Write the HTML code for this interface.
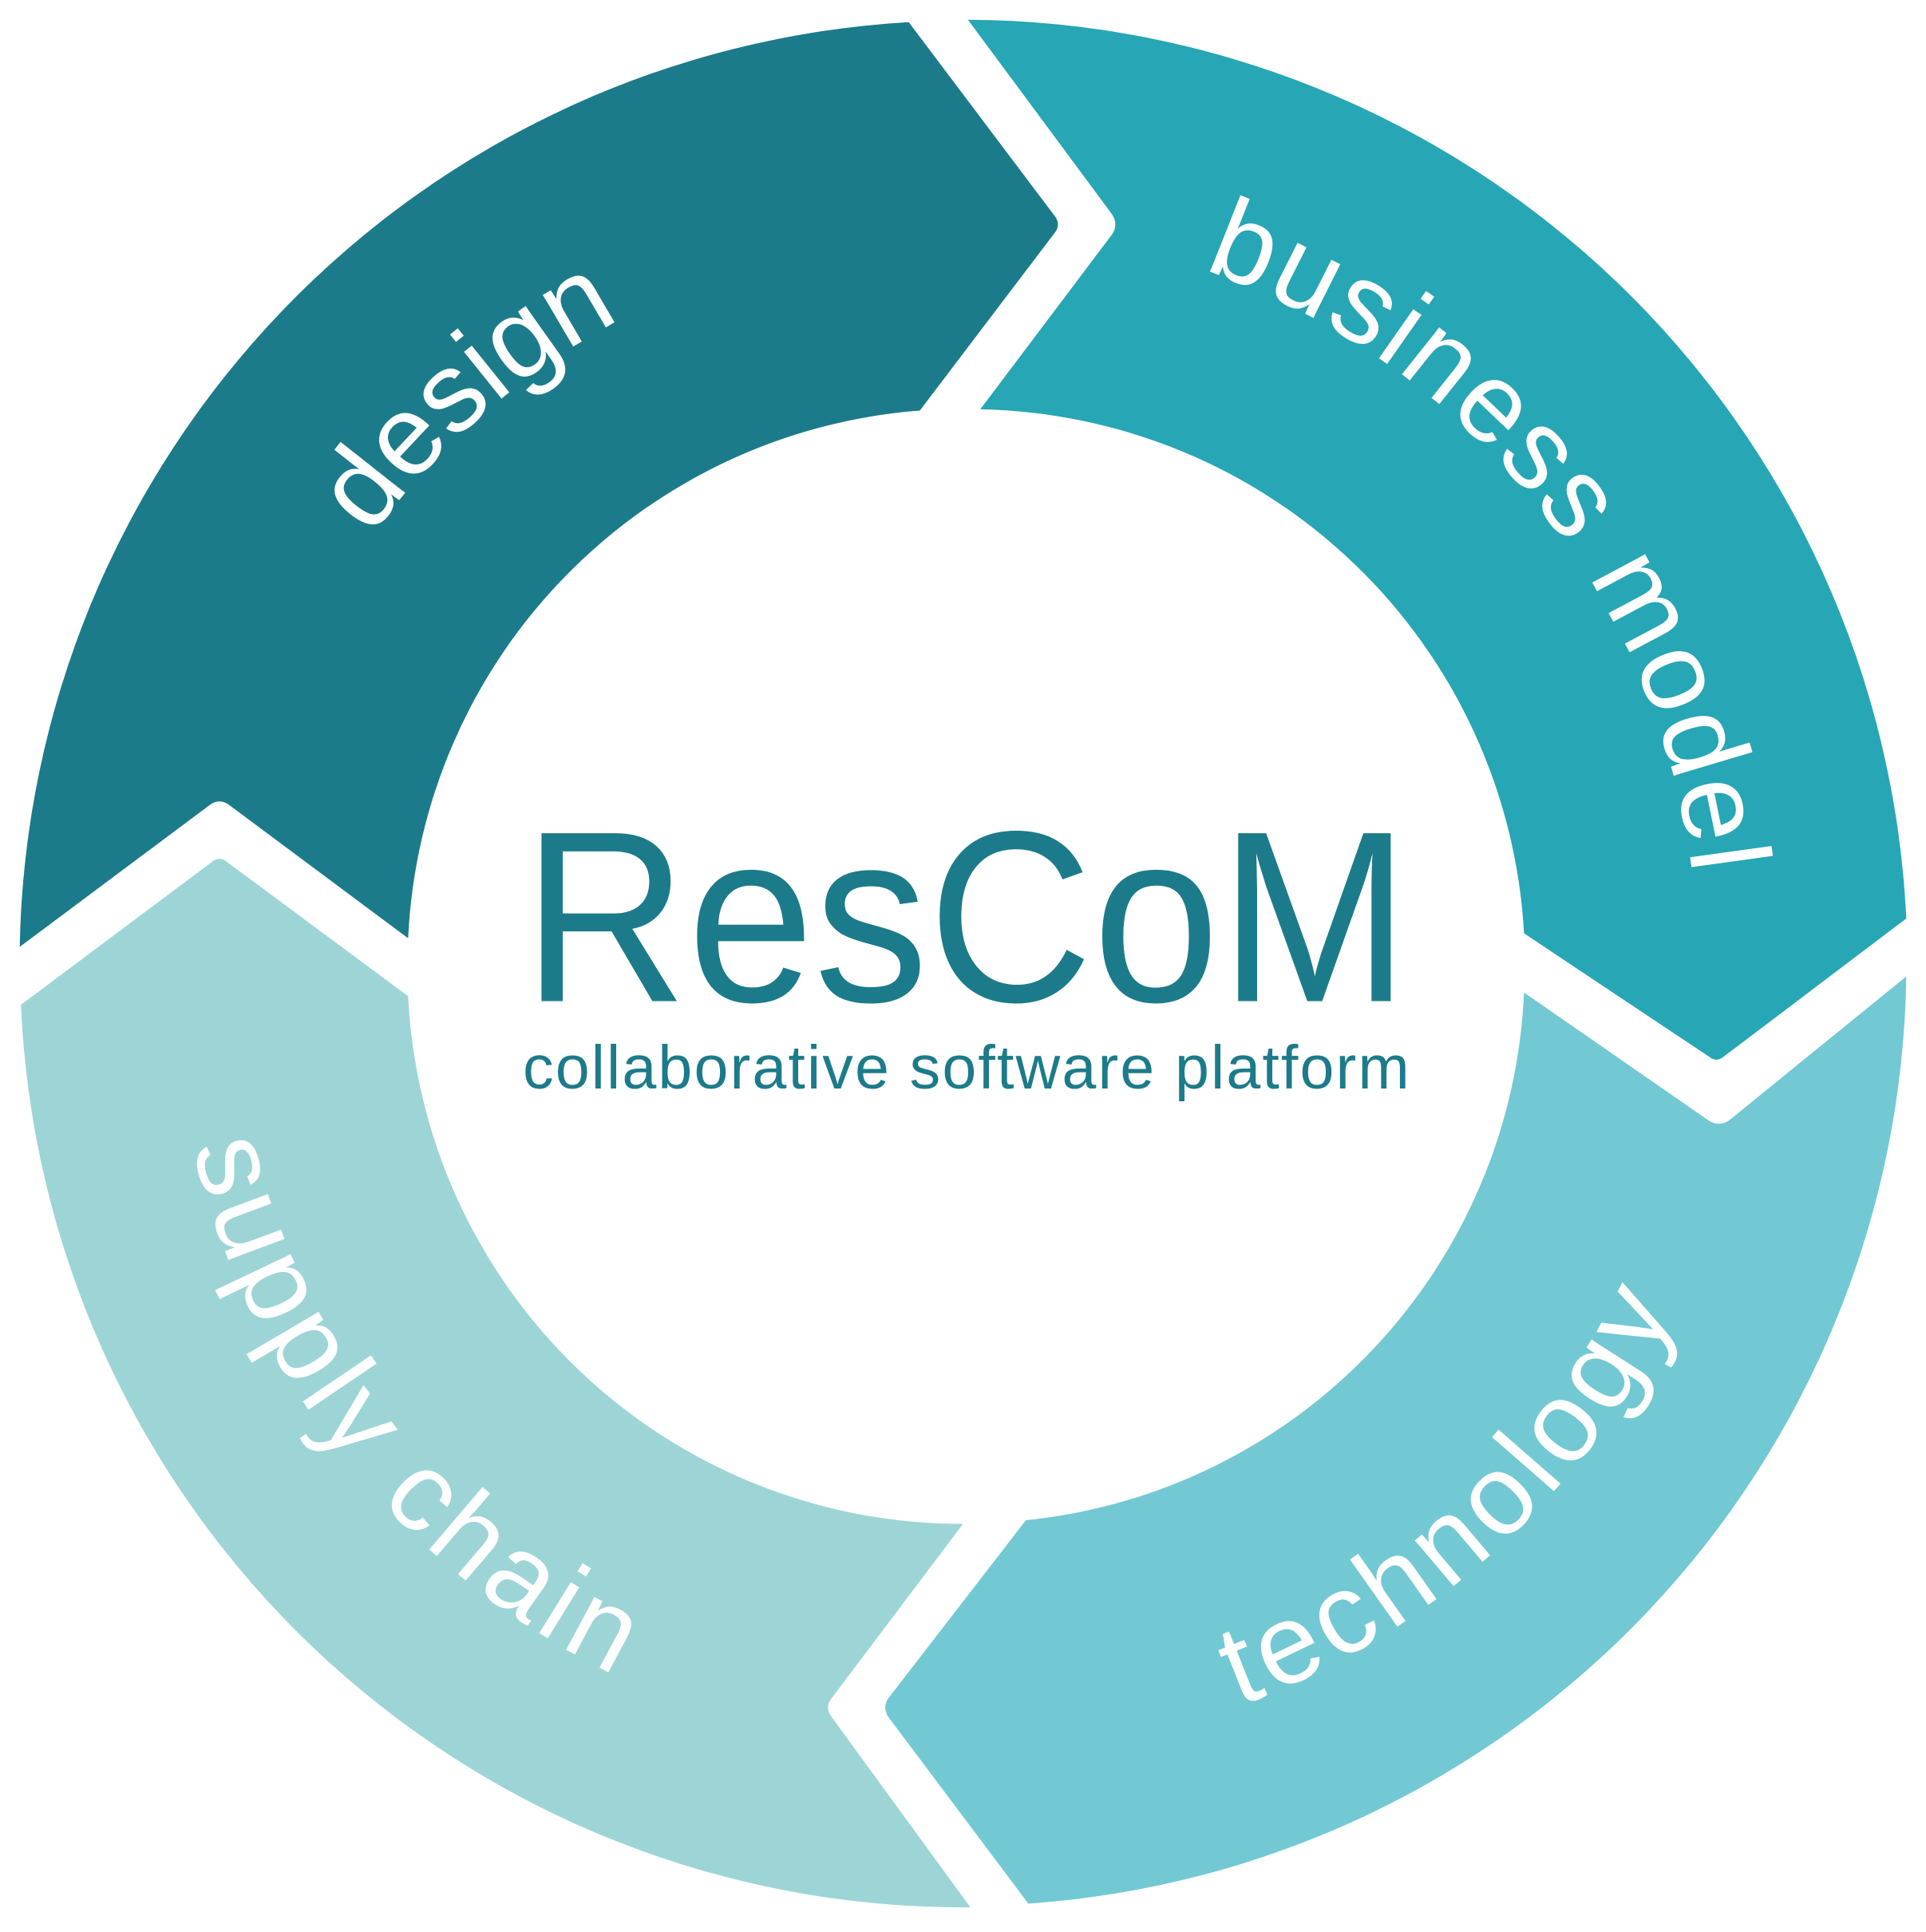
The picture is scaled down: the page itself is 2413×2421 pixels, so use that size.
<!DOCTYPE html>
<html><head><meta charset="utf-8"><style>
html,body{margin:0;padding:0;background:#fff;}
svg{display:block;}
text{font-family:"Liberation Sans",sans-serif;}
</style></head><body>
<svg width="2413" height="2421" viewBox="0 0 1562 1567" preserveAspectRatio="none" xmlns="http://www.w3.org/2000/svg">
<defs>
<path id="cw" d="M 189,782 A 592 592 0 1 1 1373,782 A 592 592 0 1 1 189,782"/>
<path id="cw2" d="M 185,782 A 596 596 0 1 1 1377,782 A 596 596 0 1 1 185,782"/>
<path id="ccw" d="M 1423,782 A 642 642 0 1 0 139,782 A 642 642 0 1 0 1423,782"/>
</defs>
<path fill="#1c7b8a" d="M16,768 A765 765 0 0 1 737,18 L856,176 Q860,182 856,188 L746,333 A450 450 0 0 0 331,761 L186,653 Q178,647 170,653 Z"/>
<path fill="#27a6b5" d="M785,16 A765 765 0 0 1 1546,745 L1398,857 Q1392,862 1386,857 L1236,757 A450 450 0 0 0 795,332 L902,190 Q907,182 902,174 Z"/>
<path fill="#72c9d3" d="M1546,792 A765 765 0 0 1 834,1544 L720,1392 Q716,1385 720,1378 L832,1233 A450 450 0 0 0 1236,805 L1386,909 Q1394,914 1402,909 Z"/>
<path fill="#9dd5d7" d="M17,815 L172,699 Q178,694 184,699 L331,808 A450 450 0 0 0 781,1236 L674,1378 Q669,1385 674,1392 L787,1547 A765 765 0 0 1 17,815 Z"/>

<g fill="#fff" font-size="92">
<text><textPath href="#cw" startOffset="13.6%" text-anchor="middle">design</textPath></text>
<text letter-spacing="2"><textPath href="#cw2" startOffset="39.2%" text-anchor="middle">business model</textPath></text>
<text letter-spacing="5"><textPath href="#ccw" startOffset="86.8%" text-anchor="middle">technology</textPath></text>
<text letter-spacing="5"><textPath href="#ccw" startOffset="60.8%" text-anchor="middle">supply chain</textPath></text>
</g>

<text x="424" y="812" font-size="198" fill="#1c7b8a" textLength="719" lengthAdjust="spacingAndGlyphs">ResCoM</text>
<text x="424" y="883" font-size="50" fill="#1c7b8a" textLength="719" lengthAdjust="spacing">collaborative software platform</text>
</svg>
</body></html>
